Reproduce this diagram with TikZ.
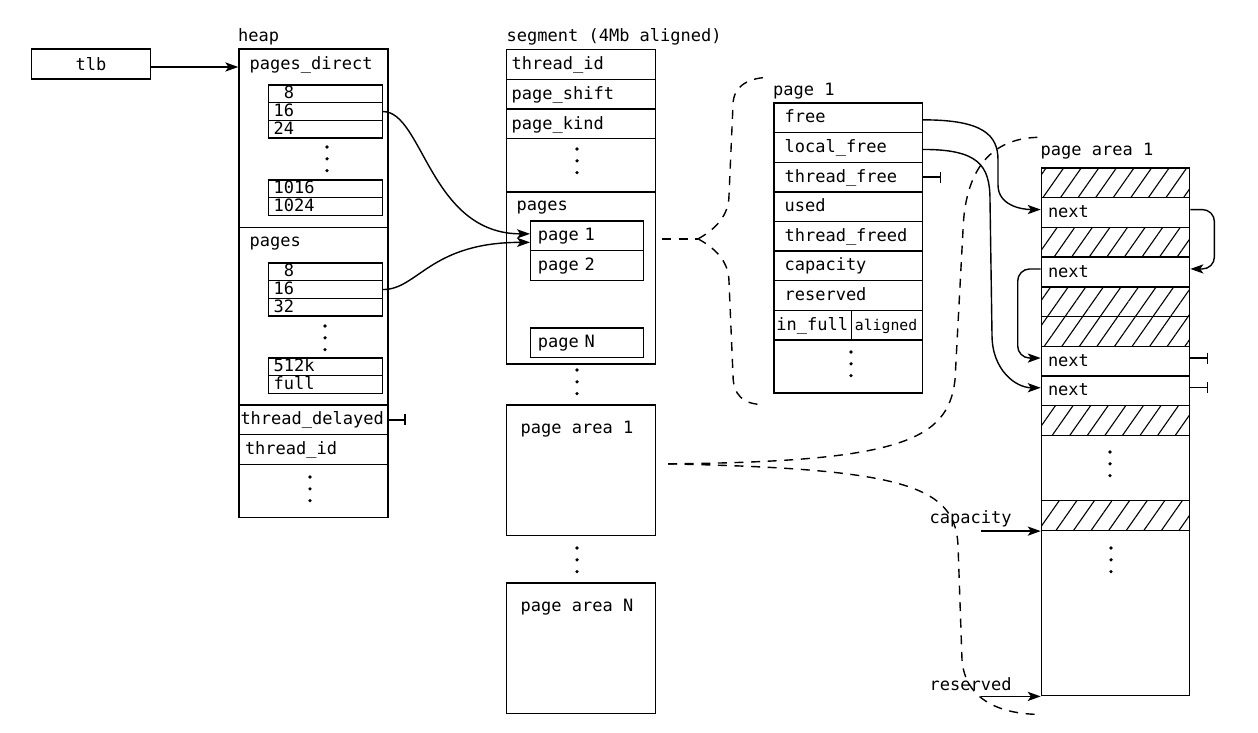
\documentclass[tikz,border=0pt]{standalone}
\usepackage{fontspec}
\setmonofont{DejaVu Sans Mono}
\usetikzlibrary{arrows.meta,patterns.meta}

\newcommand{\vdotcol}[2]{\foreach \k in {0,1,2}{\fill (#1,{#2+11.8*\k}) circle (0.9pt);}}

\begin{document}
\begin{tikzpicture}[x=0.5pt,y=-0.5pt,line width=0.7pt,
  font=\ttfamily\fontsize{8.5}{10}\selectfont,
  box/.style={draw,anchor=north west,inner sep=0pt},
  title/.style={anchor=base west,inner sep=0pt},
  cell/.style={box,text height=6.3pt,text depth=1.2pt,align=left},
  row/.style 2 args={cell,minimum height=14.85pt,inner xsep=#1,text width=#2},
  small/.style 2 args={cell,minimum height=8.85pt,inner xsep=#1,text width=#2},
  hatch/.style={box,minimum width=74.15pt,minimum height=14.85pt,
    pattern={Lines[angle=55,distance=7.2pt,line width=0.55pt]}},
  arr/.style={-{Stealth[length=6.5pt,width=4.6pt,inset=1.6pt]}},
  stub/.style={-{Bar[width=5.5pt]}},
  dashline/.style={dash pattern=on 4.5pt off 3.8pt}]
  \useasboundingbox (0,0) rectangle (1258,733);

  \node[box,minimum width=59.5pt,minimum height=15pt] (tlb) at (30.7,48.3) {tlb};

  \node[title] (heapl) at (237.5,41.5) {heap};
  \node[box,minimum width=74.5pt,minimum height=89.35pt] (hpd) at (238.3,48.3) {};
  \node[title] (hpdl) at (249,70) {pages\_direct};
  \foreach \n/\t/\y in {pd8/\phantom{1}8/84.3,pd16/16/102,pd24/24/119.7,pd1016/1016/179.3,pd1024/1024/197}
    \node[small={2.5pt}{51.75pt}] (\n) at (268,\y) {\t};
  \node[box,minimum width=74.5pt,minimum height=88.65pt] (hpg) at (238.3,227) {};
  \node[title] (hpgl) at (249,246.7) {pages};
  \foreach \n/\t/\y in {pg8/\phantom{1}8/262.3,pg16/16/280,pg32/32/297.7,pg512/512k/357.3,pgfull/full/375}
    \node[small={2.5pt}{51.75pt}] (\n) at (268,\y) {\t};
  \node[row={0.75pt}{73pt}] (htdel) at (238.3,404.3) {thread\_delayed};
  \node[row={3pt}{68.5pt}] (htid) at (238.3,434) {thread\_id};
  \node[box,minimum width=74.5pt,minimum height=26.65pt] (hmore) at (238.3,463.7) {};
  \vdotcol{327}{147}
  \vdotcol{325}{326}
  \vdotcol{310}{477}

  \node[title] (segl) at (506,41.5) {segment (4Mb aligned)};
  \foreach \n/\t [count=\i from 0] in {sid/thread\_id,sshift/page\_shift,skind/page\_kind}
    \node[row={2.5pt}{69.35pt}] (\n) at (506,{49+29.7*\i}) {\t};
  \node[box,minimum width=74.35pt,minimum height=26.5pt] (smore) at (506,138.1) {};
  \node[box,minimum width=74.35pt,minimum height=86.1pt] (spages) at (506,191.1) {};
  \node[title] (spl) at (516,210.5) {pages};
  \node[row={3.6pt}{49.15pt}] (pseg1) at (530,220.3) {page 1};
  \node[row={3.6pt}{49.15pt}] (pseg2) at (530,250) {page 2};
  \node[row={3.6pt}{49.15pt}] (psegN) at (530,327.3) {page N};
  \node[box,minimum width=74.35pt,minimum height=65.35pt] (sarea1) at (506,404.3) {};
  \node[title] (sarea1l) at (520,433.3) {page area 1};
  \node[box,minimum width=74.35pt,minimum height=65.2pt] (sareaN) at (506,582.3) {};
  \node[title] (sareaNl) at (520,611.7) {page area N};
  \vdotcol{577}{149}
  \vdotcol{577}{370}
  \vdotcol{577}{548}

  \node[title] (p1l) at (772.5,96) {page 1};
  \foreach \n/\t [count=\i from 0] in {pfree/free,plfree/local\_free,ptfree/thread\_free,pused/used,
                                     ptfreed/thread\_freed,pcap/capacity,pres/reserved}
    \node[row={5.3pt}{63.6pt}] (\n) at (773.3,{102.3+29.6*\i}) {\t};
  \node[row={1.2pt}{36.3pt}] (pinfull) at (773.3,309.5) {in\_full};
  \node[row={1.75pt}{32pt},font=\ttfamily\fontsize{7.4}{8}\selectfont] (paligned) at (850.7,309.5) {aligned};
  \node[box,minimum width=74.2pt,minimum height=26.5pt] (pmore) at (773.3,339.1) {};
  \vdotcol{851}{352}

  \node[title] (pal) at (1040,155.7) {page area 1};
  \foreach \i in {0,2,4,5,8}
    \node[hatch] (pa\i) at (1040.7,{167.3+29.7*\i}) {};
  \foreach \i/\n in {1/next1,3/next2,6/next3,7/next4}
    \node[row={3.3pt}{67.55pt}] (\n) at (1040.7,{167.3+29.7*\i}) {next};
  \node[box,minimum width=74.15pt,minimum height=32.7pt] (padots) at (1040.7,434.6) {};
  \node[hatch] (pa10) at (1040.7,500) {};
  \node[box,minimum width=74.15pt,minimum height=82.65pt] (pa11) at (1040.7,529.7) {};
  \vdotcol{1110}{452}
  \vdotcol{1111}{548}
  \node[title] (capl) at (929,523.3) {capacity};
  \node[title] (resl) at (929,690) {reserved};
  \coordinate (capend) at (pa10.south west);
  \coordinate (resend) at (pa11.south west);

  \draw[arr] ([yshift=-1.5pt]tlb.east) -- ([yshift=-1.5pt]tlb.east -| hpd.west);
  \draw[arr] (pd16.east) .. controls +(40,0) and +(-100,0) .. ([yshift=1pt]pseg1.west);
  \draw[arr] (pg16.east) .. controls +(35,0) and +(-100,0) .. ([yshift=-3.25pt]pseg1.west);
  \draw[stub] (htdel.east) -- ++(17,0);
  \draw[stub] (ptfree.east) -- ++(18,0);
  \draw[stub] ([yshift=1.5pt]next3.east) -- ++(18,0);
  \draw[stub] ([yshift=1.5pt]next4.east) -- ++(18,0);

  \draw[arr] ([yshift=-1pt]pfree.east) .. controls +(60,0) and +(0,-25) .. (998,160) -- (998,185)
    .. controls +(0,20) and +(-20,0) .. ([yshift=1.5pt]next1.west);
  \draw[arr] ([yshift=-1pt]plfree.east) .. controls +(55,0) and +(0,-35) .. (990,200) -- (992,335)
    .. controls +(0,35) and +(-25,0) .. ([yshift=1.5pt]next4.west);
  \draw[arr,rounded corners=6pt] ([yshift=1.5pt]next1.east) -- ++(24,0) |- ([yshift=1.5pt]next2.east);
  \draw[arr,rounded corners=6pt] ([yshift=1.5pt]next2.west) -- ++(-23,0) |- ([yshift=1.5pt]next3.west);
  \draw[arr] ([xshift=-29.85pt]capend) -- (capend);
  \draw[arr] ([xshift=-29.85pt]resend) -- (resend);

  \coordinate (br1) at ([xshift=9pt,yshift=-1.5pt]pseg1.east);
  \coordinate (br1m) at ([xshift=18pt]br1);
  \coordinate (br1t) at ([shift={(-3,-25)}]pfree.north west);
  \coordinate (br1b) at ([shift={(-10,11)}]pmore.south west);
  \draw[dashline] (br1) -- (br1m);
  \draw[dashline] (br1m) .. controls +(18,-10) and +(0,20) .. (729,195) -- (733,105)
    .. controls +(0,-20) and +(-20,0) .. (br1t);
  \draw[dashline] (br1m) .. controls +(18,10) and +(0,-20) .. (729,282) -- (733,375)
    .. controls +(0,20) and +(-20,0) .. (br1b);

  \coordinate (br2) at ([shift={(12,-6.5)}]sarea1.east);
  \coordinate (br2t) at ([shift={(0,-30)}]pa0.north west);
  \coordinate (br2b) at ([shift={(0,18)}]pa11.south west);
  \draw[dashline] (br2) .. controls +(233,-2) and +(-7,60) .. (955,380) -- (963,230)
    .. controls +(2,-60) and +(-50,0) .. (br2t);
  \draw[dashline] (br2) .. controls +(233,5) and +(-3,-60) .. (958,545) -- (962,660)
    .. controls +(3,40) and +(-40,0) .. (br2b);
\end{tikzpicture}
\end{document}
